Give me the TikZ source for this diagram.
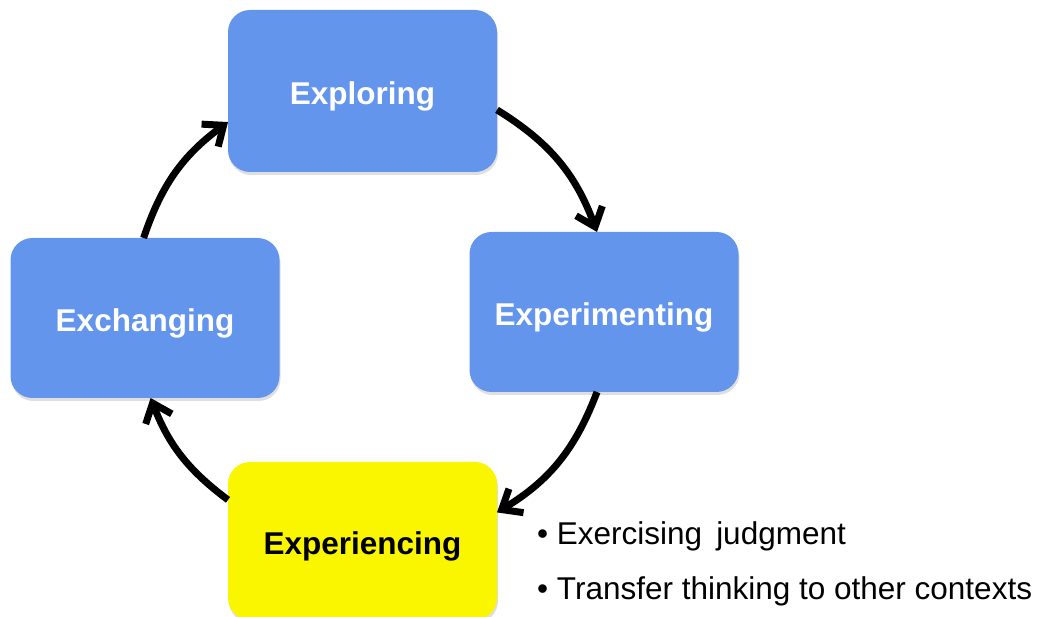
\documentclass[tikz,border=0pt]{standalone}
\usepackage{fontspec}
\setmainfont{Liberation Sans}
\usepackage{xcolor}
\usepackage{tikz}
\usetikzlibrary{arrows.meta,shadows}

\definecolor{stageblue}{RGB}{99,149,237}
\definecolor{stageyellow}{RGB}{250,246,0}

\begin{document}
\begin{tikzpicture}[
  x=1pt, y=1pt,
  stage/.style={rounded corners=22pt, minimum width=269pt, minimum height=160pt,
                inner sep=0pt, outer sep=0pt, text height=33pt, text depth=6.6pt,
                font=\fontsize{31.5}{36}\selectfont\bfseries,
                drop shadow={opacity=0.25, shadow xshift=1pt, shadow yshift=-3pt}},
  bluestage/.style={stage, fill=stageblue, text=white},
  yellowstage/.style={stage, fill=stageyellow, text=black},
  note/.style={anchor=base west, inner sep=0pt,
               font=\fontsize{31.5}{36}\selectfont},
  flow/.style={-{Straight Barb[length=17pt,width=28pt]}, line width=7pt}
]
  \useasboundingbox (0,0) rectangle (1040,617);

  \node[bluestage]   (explore) at (362.5,526) [minimum height=162pt] {Exploring};
  \node[bluestage]   (expt)    at (604,305)   {Experimenting};
  \node[bluestage]   (exch)    at (145,299)   {Exchanging};
  \node[yellowstage] (expc)    at (362.5,76)  [minimum height=158pt] {Experiencing};

  \node[note] (judge)    at (537,72) {• Exercising\ \,judgment};
  \node[note] (transfer) at (537,17) {• Transfer thinking to other contexts};

  \draw[flow] (explore.-8)  to[bend left=19]   (expt.95);
  \draw[flow] (expt.-95)    to[bend left=19]   (expc.12);
  \draw[flow] (expc.163)    to[bend left=16]   (exch.-86);
  \draw[flow] (exch.91)     to[bend left=17.5] (explore.-167);
\end{tikzpicture}
\end{document}
